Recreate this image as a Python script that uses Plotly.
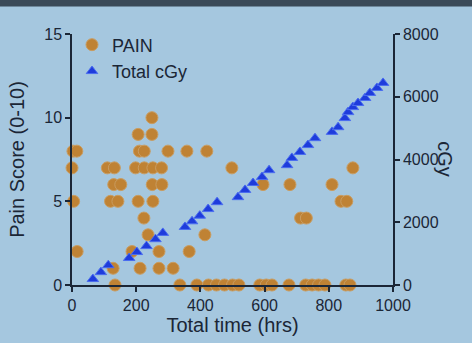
import plotly.graph_objects as go

# Pain scores (time in hrs, score 0-10)
pain_time = [3, 15, 210, 225, 299, 358, 420,
             206, 249,
             249,
             0, 110, 132, 198, 225, 252, 279, 498, 875,
             130, 152, 250, 280, 595, 679, 810,
             5, 120, 143, 206, 252, 838, 856,
             224, 712, 730,
             237, 414,
             16, 187, 271, 365,
             128, 212, 271, 315,
             134, 336, 389, 425, 450, 475, 500, 520, 585, 605, 623, 676,
             728, 748, 768, 788, 853, 866]
pain_score = [8, 8, 8, 8, 8, 8, 8,
              9, 9,
              10,
              7, 7, 7, 7, 7, 7, 7, 7, 7,
              6, 6, 6, 6, 6, 6, 6,
              5, 5, 5, 5, 5, 5, 5,
              4, 4, 4,
              3, 3,
              2, 2, 2, 2,
              1, 1, 1, 1,
              0, 0, 0, 0, 0, 0, 0, 0, 0, 0, 0, 0,
              0, 0, 0, 0, 0, 0]

# Cumulative dose (time in hrs, cGy)
dose_time = [65, 90, 113,
             178, 202, 232, 260, 283,
             352, 374, 398, 424, 452,
             517, 539, 564, 592, 614,
             670, 685, 710, 735, 757,
             810, 829, 850, 860, 875, 891, 913, 928, 950, 969]
dose_cgy = [190, 410, 630,
            860, 1050, 1240, 1460, 1660,
            1850, 2030, 2210, 2420, 2640,
            2800, 3030, 3250, 3440, 3660,
            3820, 4050, 4240, 4460, 4680,
            4880, 5030, 5320, 5510, 5670, 5800, 5960, 6120, 6280, 6440]

x_ticks = [0, 200, 400, 600, 800, 1000]
y_ticks = [0, 5, 10, 15]
y2_ticks = [0, 2000, 4000, 6000, 8000]

ink = "#1b2636"
bg = "#a5c7df"
font = "Liberation Sans, Arial, sans-serif"

fig = go.Figure()
fig.add_trace(go.Scatter(
    x=pain_time, y=pain_score, mode="markers", name="PAIN",
    marker=dict(symbol="circle", size=12, color="#bf8234",
                line=dict(width=1, color="#c99c60")),
    cliponaxis=False))
fig.add_trace(go.Scatter(
    x=dose_time, y=dose_cgy, mode="markers", name="Total cGy", yaxis="y2",
    marker=dict(symbol="triangle-up", size=10, color="#1e3cdc",
                line=dict(width=1, color="#4a6cf0")),
    cliponaxis=False))

axis_common = dict(showgrid=False, zeroline=False, showline=True,
                   linecolor=ink, linewidth=1.5, ticks="outside",
                   ticklen=5, tickwidth=1.5, tickcolor=ink,
                   tickfont=dict(size=16, color=ink, family=font))

fig.update_layout(
    width=472, height=343,
    margin=dict(l=72, r=79, t=34, b=58),
    paper_bgcolor=bg, plot_bgcolor=bg,
    font=dict(family=font, color=ink),
    showlegend=True,
    legend=dict(x=0.0, y=1.03, xanchor="left", yanchor="top",
                bgcolor="rgba(0,0,0,0)", font=dict(size=18, color=ink),
                tracegroupgap=0),
    xaxis=dict(range=[0, 1000], tickvals=x_ticks,
               title=dict(text="Total time (hrs)", font=dict(size=20, color=ink), standoff=3),
               automargin=False, **axis_common),
    yaxis=dict(range=[0, 15], tickvals=y_ticks,
               title=dict(text="Pain Score (0-10)", font=dict(size=20, color=ink), standoff=14),
               automargin=False, **axis_common),
    yaxis2=dict(range=[0, 8000], tickvals=y2_ticks, overlaying="y", side="right",
                anchor="x", automargin=False, **axis_common),
    shapes=[dict(type="rect", xref="paper", yref="paper", x0=-0.3, x1=1.3,
                 y0=1.11, y1=1.2, fillcolor="#3b4a58", line=dict(width=0),
                 layer="above")],
    annotations=[dict(text="cGy", xref="paper", yref="paper", x=1.163, y=0.5,
                      xanchor="center", yanchor="middle",
                      textangle=90, showarrow=False,
                      font=dict(size=20, color=ink, family=font))],
)

fig.write_html(
    "out.html",
    config={"displayModeBar": False},
    post_script="document.body.style.margin='0';document.body.style.background='#a5c7df';",
)
